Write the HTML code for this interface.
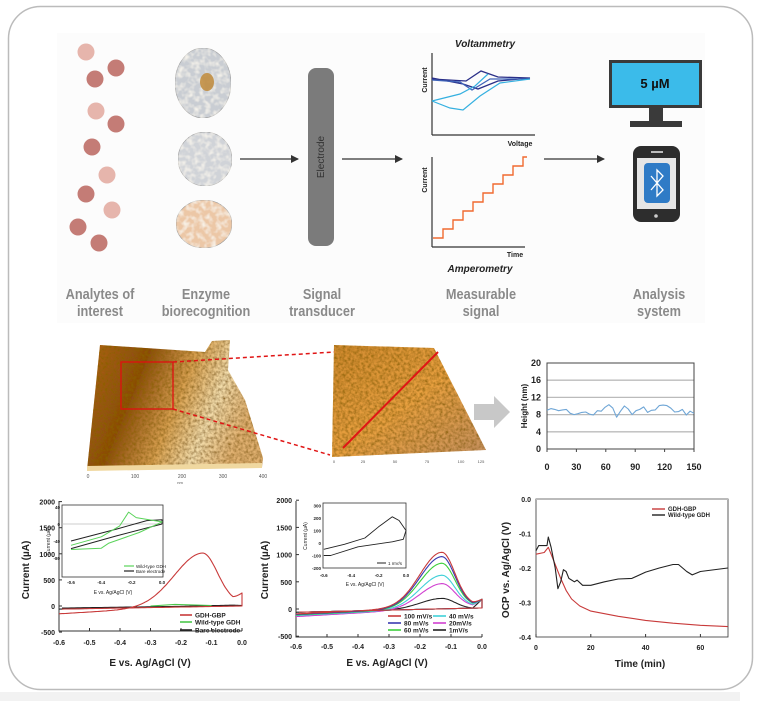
<!DOCTYPE html>
<html><head><meta charset="utf-8"><style>
html,body{margin:0;padding:0;background:#fff;}
svg{display:block;font-family:"Liberation Sans",sans-serif;}
</style></head><body>
<svg id="s" width="765" height="701" viewBox="0 0 765 701" xmlns="http://www.w3.org/2000/svg">
<defs>
<linearGradient id="afm1" x1="0" y1="0" x2="1" y2="0.3">
<stop offset="0" stop-color="#b0651a"/><stop offset="0.35" stop-color="#8a4a10"/><stop offset="0.6" stop-color="#d8a050"/><stop offset="0.8" stop-color="#f2dcaa"/><stop offset="1" stop-color="#e0b070"/></linearGradient>
<linearGradient id="afm2" x1="0" y1="0" x2="1" y2="1">
<stop offset="0" stop-color="#d08a30"/><stop offset="0.5" stop-color="#e8a040"/><stop offset="1" stop-color="#c49060"/></linearGradient>
<filter id="tex" x="0" y="0" width="1" height="1">
<feTurbulence type="fractalNoise" baseFrequency="0.35" numOctaves="2" seed="3" result="n"/>
<feColorMatrix in="n" type="matrix" values="0 0 0 0 0.25  0 0 0 0 0.12  0 0 0 0 0  0 0 0 -1.6 1.1" result="m"/>
<feComposite in="m" in2="SourceGraphic" operator="in" result="c"/>
<feMerge><feMergeNode in="SourceGraphic"/><feMergeNode in="c"/></feMerge>
</filter>
<filter id="tex2" x="0" y="0" width="1" height="1">
<feTurbulence type="fractalNoise" baseFrequency="0.18" numOctaves="2" seed="8" result="n"/>
<feColorMatrix in="n" type="matrix" values="0 0 0 0 0.95  0 0 0 0 0.92  0 0 0 0 0.85  0 0 0 -2 1.2" result="m"/>
<feComposite in="m" in2="SourceGraphic" operator="in" result="c"/>
<feMerge><feMergeNode in="SourceGraphic"/><feMergeNode in="c"/></feMerge>
</filter>
<marker id="ah" markerWidth="8" markerHeight="8" refX="7" refY="4" orient="auto" markerUnits="userSpaceOnUse"><path d="M0,0 L8,4 L0,8 z" fill="#333"/></marker>
</defs>
<rect x="0" y="692" width="740" height="9" fill="#f2f2f2"/>
<rect x="8.5" y="6.5" width="744" height="683" rx="32" fill="#fff" stroke="#bbb" stroke-width="1.5"/>
<rect x="57" y="33" width="648" height="290" fill="#fcfcfc"/>
<g id="g"></g>
</svg>
<script>
const g=document.getElementById('g');let h='';
function T(x,y,t,o){o=o||{};h+=`<text x="${x}" y="${y}" font-size="${o.s||8}" font-weight="${o.w||'bold'}" fill="${o.c||'#222'}" text-anchor="${o.a||'middle'}"${o.r?` transform="rotate(-90 ${x} ${y})"`:''}${o.i?' font-style="italic"':''}>${t}</text>`;}
function L(x1,y1,x2,y2,c,w,e){h+=`<line x1="${x1}" y1="${y1}" x2="${x2}" y2="${y2}" stroke="${c}" stroke-width="${w||1}" ${e||''}/>`;}
function P(pts,c,w){h+=`<path d="M${pts.map(p=>p[0].toFixed(1)+','+p[1].toFixed(1)).join(' L')}" fill="none" stroke="${c}" stroke-width="${w||1.2}" stroke-linejoin="round"/>`;}
[[86,52,0],[116,68,1],[95,79,1],[96,111,0],[116,124,1],[92,147,1],[107,175,0],[86,194,1],[112,210,0],[78,227,1],[99,243,1]].forEach(c=>h+=`<circle cx="${c[0]}" cy="${c[1]}" r="8.5" fill="${c[2]?'#c47c76':'#e6b5ac'}"/>`);
[[203,83,28,35,'#c9cdd3'],[205,159,27,27,'#d0d3d8'],[204,224,28,24,'#ecc7a6']].forEach(e=>{h+=`<ellipse cx="${e[0]}" cy="${e[1]}" rx="${e[2]}" ry="${e[3]}" fill="${e[4]}" stroke="#999" stroke-width="0.6" filter="url(#tex2)"/>`;});
h+=`<ellipse cx="207" cy="82" rx="7" ry="9" fill="#c08a3a" opacity="0.85"/>`;
L(240,159,298,159,'#333',1.3,'marker-end="url(#ah)"');L(342,159,402,159,'#333',1.3,'marker-end="url(#ah)"');L(544,159,604,159,'#333',1.3,'marker-end="url(#ah)"');
h+=`<rect x="308" y="68" width="26" height="178" rx="8" fill="#7b7b7b"/>`;T(324,157,'Electrode',{s:10,w:'normal',c:'#333',r:1});
T(485,47,'Voltammetry',{s:10,i:1,c:'#222'});L(432,53,432,135,'#333',1.2);L(432,135,535,135,'#333',1.2);
T(427,80,'Current',{s:7,r:1});T(520,146,'Voltage',{s:7,a:'middle'});
h+=`<path d="M432,79 L466,81 L481,71 L498,77 L530,78 L498,81 L478,89 L463,84 L432,78" fill="none" stroke="#2a2f88" stroke-width="1.3"/>`;
h+=`<path d="M432,80 L460,82 L472,90 L490,79 L530,79" fill="none" stroke="#3e63b8" stroke-width="1.2"/>`;
h+=`<path d="M432,101 L450,108 L463,110 L480,96 L500,83 L530,79 M432,101 L460,94 L475,86 L488,74" fill="none" stroke="#35b0e0" stroke-width="1.2"/>`;
L(432,157,432,247,'#333',1.2);L(432,247,525,247,'#333',1.2);T(427,180,'Current',{s:7,r:1});T(515,257,'Time',{s:7});T(480,272,'Amperometry',{s:10,i:1});
let st='M433,238';let x=433,y=238;for(let i=0;i<9;i++){x+=10;st+=` H${x}`;y-=9;st+=` V${y}`;}st+=` H527`;h+=`<path d="${st}" fill="none" stroke="#f06a30" stroke-width="1.4"/>`;
h+=`<rect x="609" y="60" width="93" height="48" fill="#3a3a3a"/><rect x="612" y="63" width="87" height="42" fill="#3bbbea"/>`;T(655,88,'5 µM',{s:13,c:'#111'});
h+=`<rect x="649" y="108" width="14" height="14" fill="#3a3a3a"/><rect x="630" y="121" width="52" height="6" fill="#3a3a3a"/>`;
h+=`<rect x="633" y="146" width="47" height="76" rx="8" fill="#2d2d2d"/><rect x="637" y="158" width="39" height="51" fill="#e6e6e6"/><rect x="644" y="163" width="26" height="40" rx="4" fill="#2f7bc6"/><rect x="651" y="151" width="12" height="2" fill="#bbb"/><circle cx="656" cy="216" r="1.8" fill="#ccc"/>`;
h+=`<path d="M651,176 L663,190 L657,196 V170 L663,176 L651,190" fill="none" stroke="#fff" stroke-width="1.3"/>`;
[[100,'Analytes of','interest'],[206,'Enzyme','biorecognition'],[322,'Signal','transducer'],[481,'Measurable','signal'],[659,'Analysis','system']].forEach(l=>{h+=`<g transform="translate(${l[0]} 0) scale(0.88 1)">`;T(0,299,l[1],{s:14.5,c:'#8a8a8a'});T(0,316,l[2],{s:14.5,c:'#8a8a8a'});h+='</g>';});
h+=`<path d="M100,345 L205,352 L212,341 L230,340 L228,370 L245,400 L263,458 L262,467 L87,470 Z" fill="url(#afm1)" filter="url(#tex)"/>`;
h+=`<path d="M87,466 L262,463 L262,468 L87,471 Z" fill="#f0d8a0"/>`;
h+=`<rect x="121" y="362" width="52" height="47" fill="none" stroke="#e01010" stroke-width="1.3"/>`;
[['0',88],['100',135],['200',182],['300',223],['400',263]].forEach(a=>T(a[1],478,a[0],{s:5,w:'normal',c:'#555'}));T(180,484,'nm',{s:4,w:'normal',c:'#555'});
h+=`<path d="M334,345 L434,348 L486,450 L332,457 Z" fill="url(#afm2)" filter="url(#tex)"/>`;
L(343,448,438,352,'#e01515',2);
L(173,362,334,352,'#e01515',1.5,'stroke-dasharray="4,3"');L(173,409,330,455,'#e01515',1.5,'stroke-dasharray="4,3"');
[['0',334],['25',363],['50',395],['75',427],['100',461],['125',481]].forEach(a=>T(a[1],463,a[0],{s:4,w:'normal',c:'#555'}));
h+=`<path d="M474,404 H494 V396 L510,412 L494,428 V420 H474 Z" fill="#c8c8c8"/>`;
const hx=v=>547+v*147/150, hy=v=>449-v*4.3;
[4,8,12,16].forEach(v=>L(547,hy(v),694,hy(v),'#bbb',1.3));h+=`<rect x="547" y="363" width="147" height="86" fill="none" stroke="#444" stroke-width="1"/>`;
[0,4,8,12,16,20].forEach(v=>T(541,hy(v)+3,v,{s:9,a:'end'}));[0,30,60,90,120,150].forEach(v=>{T(hx(v),470,v,{s:9});L(hx(v),449,hx(v),452,'#444',1);});
T(527,406,'Height (nm)',{s:8,r:1});
let hd=[9,9.4,9.2,8.9,9.1,9.2,8.3,8,8.2,8.5,8.6,8.1,7.9,8.9,8.8,9.7,10.3,9.5,7.4,8.8,10,9.3,8,8.9,9.2,9.8,8.5,9,9.1,10.1,10.2,10.1,9.5,8.6,8.7,9.2,7.9,8.8,8.3];
P(hd.map((v,i)=>[hx(i*150/(hd.length-1)),hy(v)]),'#6fa6d6',1.1);
const X1=v=>242+v*305,Y1=i=>606-i*0.0522;
h+=`<path d="M59,501 V631 H242" fill="none" stroke="#333" stroke-width="1"/>`;
[2000,1500,1000,500,0,-500].forEach(v=>{T(55,Y1(v)+3,v,{s:7,a:'end'});L(59,Y1(v),62,Y1(v),'#333');});
[-0.6,-0.5,-0.4,-0.3,-0.2,-0.1,0].forEach(v=>{T(X1(v),645,v.toFixed(1),{s:7});L(X1(v),631,X1(v),628,'#333');});
T(150,666,'E vs. Ag/AgCl (V)',{s:10});T(29,570,'Current (µA)',{s:10,r:1});
function cv(X,Y,pk,b0,b1,r0,r1,end,sl,sr,col){let f=[],r=[];for(let v=-0.6;v<=0.0001;v+=0.005){let s=v<-0.13?sl:sr;let gg=pk*Math.exp(-Math.pow((v+0.13)/s,2));let base=b0+(b1-b0)*(v+0.6)/0.6;f.push([X(v),Y(base+gg+(v>-0.03?(end-pk*Math.exp(-Math.pow(0.13/sr,2))-b1)*(v+0.03)/0.03:0))]);}
for(let v=0;v>=-0.6;v-=0.01){r.push([X(v),Y(r1+(r0-r1)*(-v)/0.6)]);}P(f.concat(r),col||'#c33',1.1);}
cv(X1,Y1,0,-60,20,-40,10,10,0.1,0.05,'#222');
cv(X1,Y1,1000,-150,60,-60,0,250,0.13,0.07,'#c83a3a');
P([[X1(-0.3),Y1(0)],[X1(-0.22),Y1(30)],[X1(-0.15),Y1(20)],[X1(-0.1),Y1(10)]],'#4cc84c',1.1);
h+=`<rect x="62" y="505" width="101" height="72" fill="#fff" stroke="#333" stroke-width="0.8"/>`;
const iX=v=>162+v*151.7,iY=i=>524-i*0.425;L(62,iY(0),163,iY(0),'#bbb',0.8);
[40,0,-40,-80].forEach(v=>T(60,iY(v)+2,v,{s:4.5,a:'end'}));[-0.6,-0.4,-0.2,0].forEach(v=>T(iX(v),584,v.toFixed(1),{s:4.5}));
T(113,594,'E vs. Ag/AgCl (V)',{s:5,w:'normal'});T(50,541,'Current (µA)',{s:5,w:'normal',r:1});
P([[iX(-0.6),iY(-40)],[iX(-0.3),iY(-12)],[iX(-0.1),iY(8)],[iX(0),iY(10)],[iX(0),iY(0)],[iX(-0.3),iY(-28)],[iX(-0.6),iY(-58)]],'#222',1);
P([[iX(-0.6),iY(-50)],[iX(-0.4),iY(-30)],[iX(-0.28),iY(-5)],[iX(-0.22),iY(28)],[iX(-0.17),iY(15)],[iX(0),iY(5)],[iX(-0.15),iY(-20)],[iX(-0.35),iY(-45)],[iX(-0.4),iY(-57)],[iX(-0.6),iY(-60)]],'#5ad35a',1);
L(124,566,134,566,'#5ad35a',1.2);T(136,568,'Wild-type GDH',{s:4.5,w:'normal',a:'start'});L(124,571,134,571,'#222',1.2);T(136,573,'Bare electrode',{s:4.5,w:'normal',a:'start'});
[['GDH-GBP','#c83a3a',615],['Wild-type GDH','#4cc84c',622],['Bare electrode','#222',630]].forEach(l=>{L(180,l[2],192,l[2],l[1],1.6);T(195,l[2]+2.5,l[0],{s:6.5,a:'start'});});
const X2=v=>482+v*310,Y2=i=>609-i*0.0544;
h+=`<path d="M296,501 V637 H482" fill="none" stroke="#333" stroke-width="1"/>`;
[2000,1500,1000,500,0,-500].forEach(v=>{T(292,Y2(v)+3,v,{s:7,a:'end'});L(296,Y2(v),299,Y2(v),'#333');});
[-0.6,-0.5,-0.4,-0.3,-0.2,-0.1,0].forEach(v=>{T(X2(v),649,v.toFixed(1),{s:7});L(X2(v),637,X2(v),634,'#333');});
T(387,666,'E vs. Ag/AgCl (V)',{s:10});T(268,570,'Current (µA)',{s:10,r:1});
[[200,'#222',-60,10],[450,'#d040d0',-140,60],[600,'#40d0d8',-120,60],[810,'#3ccf3c',-110,70],[930,'#3a3ab0',-100,70],[1000,'#c83a3a',-90,80]].forEach(c=>cv(X2,Y2,c[0],c[2],c[3],-60,20,180,0.1,0.06,c[1]));
h+=`<rect x="323" y="503" width="83" height="65" fill="#fff" stroke="#333" stroke-width="0.8"/>`;
const jX=v=>406+v*137,jY=i=>543-i*0.125;
[300,200,100,0,-100,-200].forEach(v=>T(321,jY(v)+2,v,{s:4.5,a:'end'}));[-0.6,-0.4,-0.2,0].forEach(v=>T(jX(v),577,v.toFixed(1),{s:4.5}));
T(365,586,'E vs. Ag/AgCl (V)',{s:5,w:'normal'});T(307,536,'Current (µA)',{s:5,w:'normal',r:1});
P([[jX(-0.6),jY(-50)],[jX(-0.45),jY(-10)],[jX(-0.3),jY(40)],[jX(-0.2),jY(130)],[jX(-0.1),jY(210)],[jX(-0.05),jY(180)],[jX(0),jY(100)],[jX(-0.02),jY(30)],[jX(-0.1),jY(10)],[jX(-0.35),jY(-30)],[jX(-0.55),jY(-100)],[jX(-0.6),jY(-100)]],'#222',0.9);
L(377,563,386,563,'#222',1);T(388,565,'1 mV/s',{s:4.5,w:'normal',a:'start'});
[['100 mV/s','#c83a3a',388,616],['80 mV/s','#3a3ab0',388,623],['60 mV/s','#3ccf3c',388,630],['40 mV/s','#40d0d8',433,616],['20mV/s','#d040d0',433,623],['1mV/s','#222',433,630]].forEach(l=>{L(l[2],l[3],l[2]+13,l[3],l[1],1.6);T(l[2]+16,l[3]+2.5,l[0],{s:6.5,a:'start'});});
const X3=t=>536+t*2.74,Y3=v=>499-v*345;
h+=`<rect x="536" y="499" width="192" height="138" fill="none" stroke="#333" stroke-width="0.8"/>`;L(536,499,728,499,'#bbb',2);
[0,-0.1,-0.2,-0.3,-0.4].forEach(v=>{T(531,Y3(v)+3,v.toFixed(1),{s:7,a:'end'});});
[0,20,40,60].forEach(v=>{T(X3(v),650,v,{s:7});L(X3(v),637,X3(v),634,'#333');});
T(640,667,'Time (min)',{s:10});T(509,570,'OCP vs. Ag/AgCl (V)',{s:10,r:1});
P([[0,-.16],[3,-.155],[4.5,-.14],[5.5,-.16],[7,-.19],[9,-.23],[11,-.265],[13,-.29],[16,-.31],[20,-.325],[30,-.34],[40,-.352],[50,-.36],[60,-.366],[70,-.37]].map(p=>[X3(p[0]),Y3(p[1])]),'#c83a3a',1.1);
P([[0,-.15],[1,-.135],[4,-.135],[4.5,-.11],[5.5,-.14],[7,-.2],[8,-.26],[9,-.24],[10,-.205],[11,-.21],[12,-.23],[14,-.24],[15,-.235],[17,-.25],[20,-.25],[25,-.24],[30,-.232],[35,-.23],[40,-.212],[45,-.2],[50,-.19],[52,-.19],[55,-.21],[57,-.22],[60,-.21],[70,-.2]].map(p=>[X3(p[0]),Y3(p[1])]),'#222',1.1);
L(652,509,665,509,'#c83a3a',1.4);T(668,511,'GDH-GBP',{s:6,a:'start'});L(652,515,665,515,'#222',1.4);T(668,517,'Wild-type GDH',{s:6,a:'start'});
g.innerHTML=h;
</script>
</body></html>
